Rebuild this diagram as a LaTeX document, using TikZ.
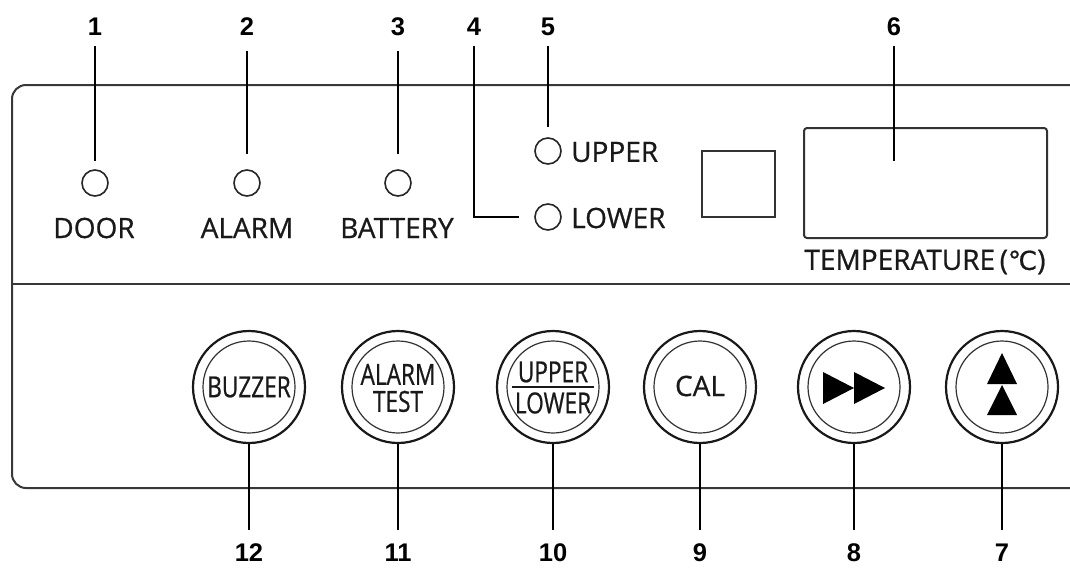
\documentclass[tikz,border=0pt]{standalone}
\usepackage{fontspec}
\setmainfont{Open Sans}
\newfontfamily\lblfont[FakeBold=0.7]{Open Sans}
\newfontfamily\numfont{Liberation Sans}
\newfontfamily\condfont[FakeStretch=0.78, FakeBold=0.7]{Open Sans}
\newfontfamily\symfont[FakeBold=0.7]{DejaVu Sans}
\tikzset{
  panel/.style={draw=black!78, line width=2pt},
  led/.style={circle, draw=black!85, line width=1.6pt, minimum size=26pt, inner sep=0pt},
  ledtext/.style={font=\lblfont\fontsize{28}{28}\selectfont, text=black!90, inner sep=0pt},
  num/.style={font=\numfont\bfseries\fontsize{25.5}{26}\selectfont, inner sep=0pt},
  leader/.style={draw=black, line width=2pt},
  btn/.style={circle, draw=black!90, line width=2.2pt, minimum size=112pt, inner sep=0pt},
  btninner/.style={circle, draw=black!80, line width=1.2pt, minimum size=92pt, inner sep=0pt},
  btntext/.style={font=\condfont\fontsize{29}{30}\selectfont, align=center, inner sep=0pt, text=black!90},
  display/.style={draw=black!80, line width=2pt, inner sep=0pt},
}
\begin{document}
\begin{tikzpicture}[x=1pt, y=-1pt]
\fill[white] (0,0) rectangle (1070,570);
\useasboundingbox (0,0) rectangle (1070,570);

% panel
\draw[panel, rounded corners=14pt] (1070,85) -- (12,85) -- (12,488) -- (1070,488);
\draw[panel] (12,284) -- (1070,284);

% LEDs and labels
\node[led] (led1) at (95,183) {};
\node[led] (led2) at (247,183) {};
\node[led] (led3) at (398,183) {};
\node[led] (ledU) at (548,151) {};
\node[led] (ledL) at (548,217) {};
\node[ledtext] (tDoor) at (94,228) {DOOR};
\node[ledtext] (tAlarm) at (247,228) {ALARM};
\node[ledtext] (tBatt) at (397,228) {BATTERY};
\node[ledtext, anchor=west] (tUpper) at (571,152) {UPPER};
\node[ledtext, anchor=west] (tLower) at (571,218) {LOWER};

% displays
\node[display, minimum width=73pt, minimum height=66pt] (sq) at (738.5,184) {};
\node[display, rounded corners=3pt, minimum width=243pt, minimum height=110pt] (disp) at (925.5,183) {};
\node[ledtext] (tTemp) at (925,262) {TEMPERATURE\,({\symfont\fontsize{26}{26}\selectfont ℃})};

% top numbers
\node[num] (n1) at (95,27) {1};
\node[num] (n2) at (247,27) {2};
\node[num] (n3) at (398,27) {3};
\node[num] (n4) at (474,27) {4};
\node[num] (n5) at (548,27) {5};
\node[num] (n6) at (894,27) {6};
\coordinate (p6) at (894,161);

\draw[leader, shorten <=10pt, shorten >=8pt] (n1) -- (led1);
\draw[leader, shorten <=15pt, shorten >=15pt] (n2) -- (led2);
\draw[leader, shorten <=15pt, shorten >=15pt] (n3) -- (led3);
\draw[leader, shorten <=10pt, shorten >=15pt] (n4.south) |- (ledL.west);
\draw[leader, shorten <=10pt, shorten >=10pt] (n5) -- (ledU);
\draw[leader, shorten <=10pt] (n6.south) -- (p6);

% buttons
\foreach \nm/\xx in {b12/249, b11/398, b10/553, b9/700, b8/854, b7/1002}{
  \node[btn] (\nm) at (\xx,387) {};
  \node[btninner] (\nm i) at (\xx,387) {};
}
\node[btntext] (t12) at (249,387) {BUZZER};
\node[btntext] (t11) at (398,388) {ALARM\\[-3pt]TEST};
\node[btntext] (t10u) at (553,372) {UPPER};
\node[btntext] (t10l) at (553,403) {LOWER};
\draw[black!90, line width=1.4pt] ([xshift=-41pt]b10.center) -- ([xshift=41pt]b10.center);
\node[btntext, font=\lblfont\fontsize{28}{28}\selectfont] (t9) at (700,386) {CAL};
\fill[shift={(b8.center)}, yshift=-1pt] (-31,-16) -- (0,0) -- (-31,16) -- cycle;
\fill[shift={(b8.center)}, yshift=-1pt] (0,-16) -- (31,0) -- (0,16) -- cycle;
\fill[shift={(b7.center)}] (0,-34) -- (15,-3) -- (-15,-3) -- cycle;
\fill[shift={(b7.center)}] (0,-2) -- (15,28) -- (-15,28) -- cycle;

% bottom numbers
\node[num] (n12) at (249,553) {12};
\node[num] (n11) at (398,553) {11};
\node[num] (n10) at (553,553) {10};
\node[num] (n9) at (700,553) {9};
\node[num] (n8) at (854,553) {8};
\node[num] (n7) at (1002,553) {7};
\foreach \b/\n in {b12/n12, b11/n11, b10/n10, b9/n9, b8/n8, b7/n7}{
  \draw[leader, shorten >=14pt] (\b.south) -- (\n);
}
\end{tikzpicture}
\end{document}
